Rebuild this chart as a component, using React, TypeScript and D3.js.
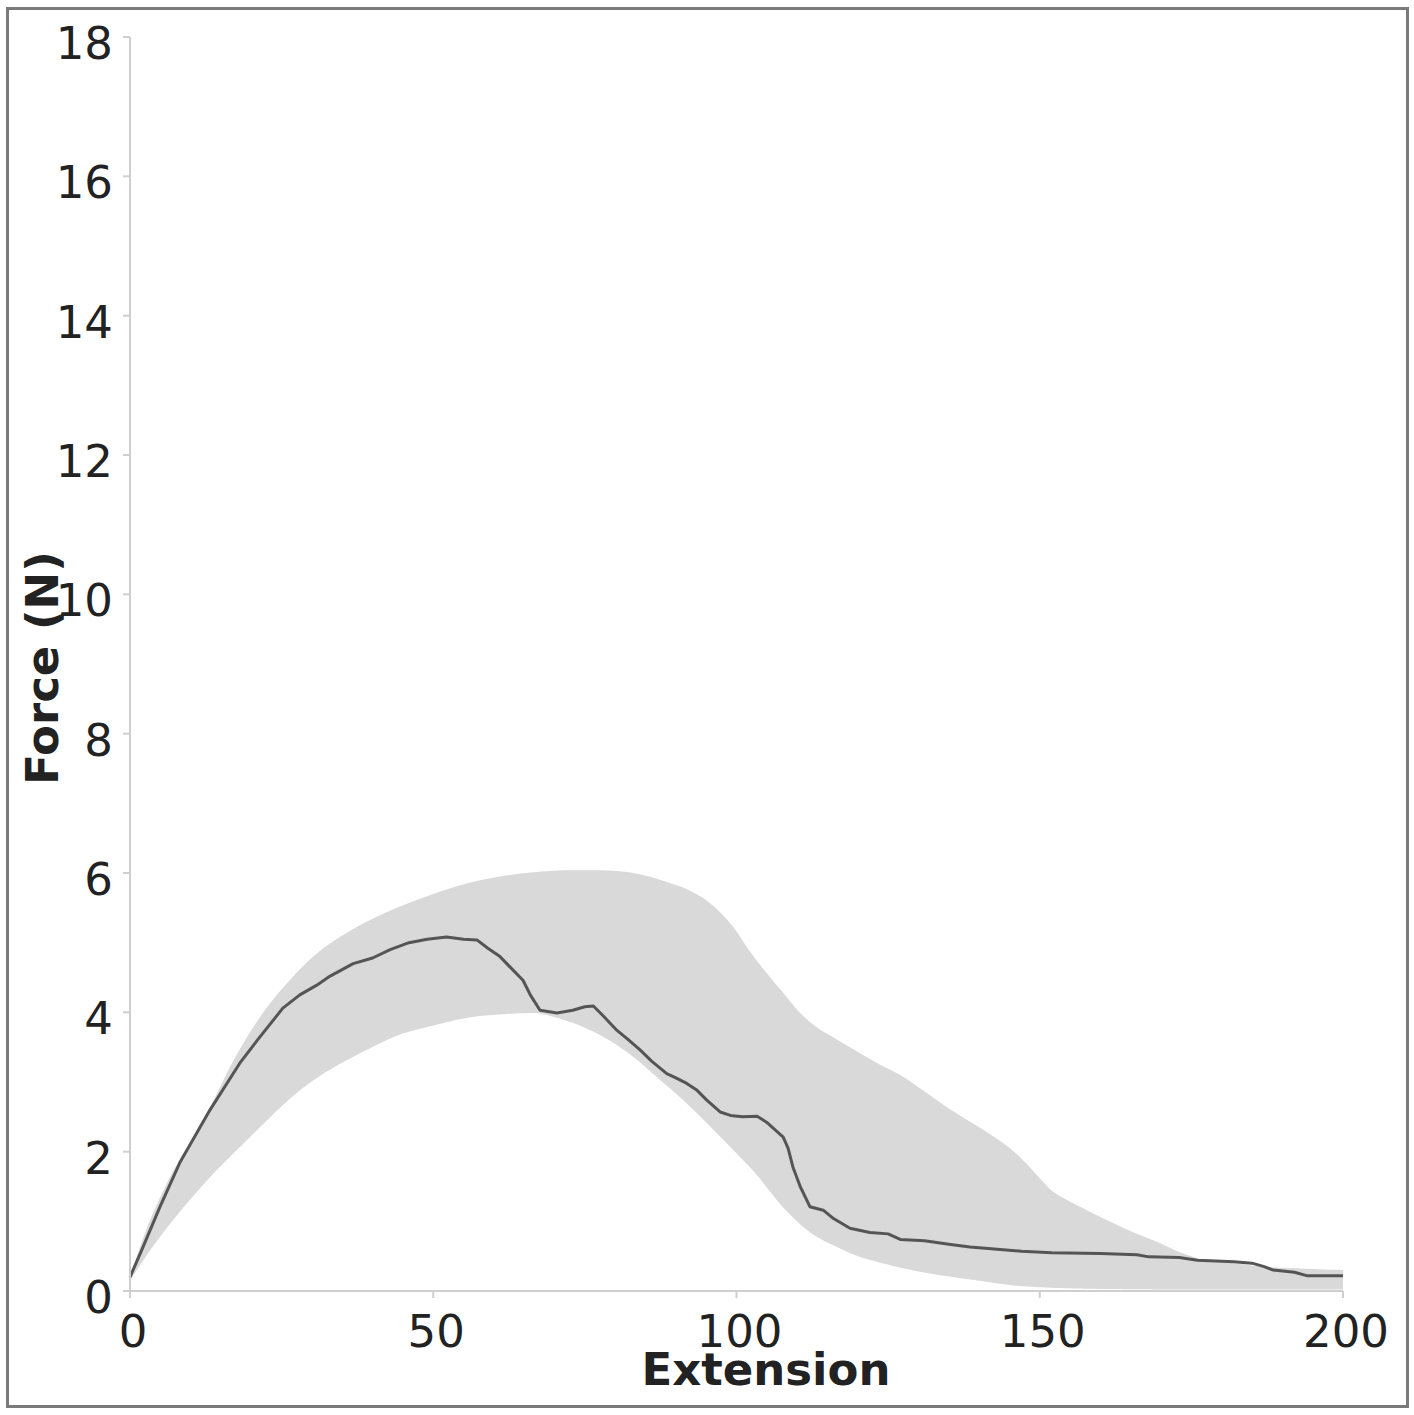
import React from "react";
import * as d3 from "d3";

const meanExt = [0, 2, 4.9, 8.2, 13.2, 18.1, 21, 25.2, 28, 30.8, 33, 36.8, 40, 42.9, 46, 49, 52.2, 55, 57.2, 59, 61, 63, 64.8, 66, 67.6, 70.4, 73, 75, 76.4, 78, 80.3, 82, 84.1, 86, 88.5, 90, 91.8, 93.5, 95.1, 97.3, 99, 101, 103.4, 105, 107.7, 108.5, 109.3, 110.5, 112.1, 114.3, 116, 118.7, 122, 125, 127, 131, 135, 138.5, 143, 147, 152, 160, 166, 168, 173, 176, 182, 185, 187, 188.5, 192, 194, 200];
const meanForce = [0.2, 0.6, 1.2, 1.84, 2.6, 3.27, 3.6, 4.06, 4.25, 4.39, 4.52, 4.7, 4.78, 4.9, 5.0, 5.05, 5.08, 5.05, 5.04, 4.92, 4.8, 4.62, 4.46, 4.25, 4.03, 3.99, 4.03, 4.08, 4.09, 3.95, 3.74, 3.62, 3.46, 3.3, 3.12, 3.06, 2.98, 2.88, 2.74, 2.57, 2.52, 2.5, 2.51, 2.42, 2.21, 2.05, 1.78, 1.5, 1.21, 1.16, 1.04, 0.9, 0.84, 0.82, 0.74, 0.72, 0.67, 0.63, 0.6, 0.57, 0.55, 0.54, 0.52, 0.49, 0.48, 0.44, 0.42, 0.4, 0.35, 0.3, 0.27, 0.22, 0.22];

const upperExt = [0, 3, 6.1, 10, 13.2, 17, 21.9, 25, 28, 31, 34.6, 39, 44.5, 50, 55.5, 61, 66.5, 72, 77.5, 83, 88.5, 92, 95, 97.5, 99.5, 102, 105, 108, 110.5, 113, 116, 118.7, 123, 127, 131.7, 135, 140, 144, 147, 150, 152, 154, 158, 162, 166, 169.5, 173, 177, 182, 188, 194, 200];
const upperForce = [0.2, 0.95, 1.55, 2.15, 2.64, 3.3, 3.99, 4.33, 4.62, 4.86, 5.08, 5.3, 5.52, 5.7, 5.85, 5.95, 6.01, 6.04, 6.04, 6.0, 5.87, 5.76, 5.61, 5.42, 5.22, 4.9, 4.56, 4.25, 3.99, 3.8, 3.64, 3.5, 3.28, 3.1, 2.82, 2.62, 2.35, 2.12, 1.9, 1.62, 1.44, 1.33, 1.15, 0.98, 0.82, 0.7, 0.56, 0.45, 0.4, 0.34, 0.32, 0.3];

const lowerExt = [0, 3.3, 11.5, 19.8, 28, 39, 44.5, 50, 55.5, 61, 66.5, 70, 74.7, 79, 83, 87, 91.2, 95, 99.5, 103, 107.7, 112, 116.6, 120, 124, 130, 139, 147, 160, 180, 200];
const lowerForce = [0.15, 0.58, 1.47, 2.21, 2.88, 3.46, 3.68, 3.81, 3.92, 3.97, 3.99, 3.93, 3.79, 3.6, 3.36, 3.06, 2.74, 2.42, 2.02, 1.7, 1.2, 0.85, 0.63, 0.5, 0.4, 0.28, 0.16, 0.07, 0.03, 0.02, 0.02];

const xTicks = [0, 50, 100, 150, 200];
const yTicks = [0, 2, 4, 6, 8, 10, 12, 14, 16, 18];

const W = 1414;
const H = 1415;
const left = 130, right = 1343, top = 37, bottom = 1291;

export default function App() {
  const x = d3.scaleLinear().domain([0, 200]).range([left, right]);
  const y = d3.scaleLinear().domain([0, 18]).range([bottom, top]);

  const upper = upperExt.map((e, i) => [e, upperForce[i]] as [number, number]);
  const lower = lowerExt.map((e, i) => [e, lowerForce[i]] as [number, number]);
  const mean = meanExt.map((e, i) => [e, meanForce[i]] as [number, number]);

  const lineSmooth = d3.line<[number, number]>().x(d => x(d[0])).y(d => y(d[1])).curve(d3.curveMonotoneX);
  const upPath = lineSmooth(upper) || "";
  const lowerRevPts = lower.slice().reverse();

  const bandPath = (() => {
    const lowFwd = lineSmooth(lower) || "";
    const pts: [number, number][] = [];
    const n = 500;
    const tmp = document.createElementNS("http://www.w3.org/2000/svg", "path");
    tmp.setAttribute("d", lowFwd);
    let len = 0;
    try { len = tmp.getTotalLength(); } catch (e) { len = 0; }
    if (len > 0) {
      for (let i = n; i >= 0; i--) {
        const p = tmp.getPointAtLength((len * i) / n);
        pts.push([p.x, p.y]);
      }
      return upPath + " L" + pts.map(p => p[0].toFixed(2) + "," + p[1].toFixed(2)).join(" L") + " Z";
    }
    return upPath + " L" + lowerRevPts.map(d => x(d[0]) + "," + y(d[1])).join(" L") + " Z";
  })();

  const meanLine = d3.line<[number, number]>().x(d => x(d[0])).y(d => y(d[1]))(mean) || "";

  const font = "'DejaVu Sans', Verdana, sans-serif";

  return (
    <svg width={W} height={H} style={{ position: "absolute", left: 0, top: 0, background: "#fff" }}>
      <rect x={0} y={0} width={W} height={H} fill="#fff" />
      <rect x={7.5} y={8.5} width={1400} height={1398} fill="none" stroke="#7a7a7a" strokeWidth={3} />
      <path d={bandPath} fill="#d9d9d9" stroke="none" />
      <path d={meanLine} fill="none" stroke="#555" strokeWidth={3} strokeLinejoin="round" />
      <line x1={left} x2={left} y1={top} y2={bottom} stroke="#cfcfcf" strokeWidth={2} />
      <line x1={left} x2={right} y1={bottom} y2={bottom} stroke="#cfcfcf" strokeWidth={2} />
      {yTicks.map(t => (
        <g key={"y" + t}>
          <line x1={left - 7} x2={left} y1={y(t)} y2={y(t)} stroke="#cfcfcf" strokeWidth={2} />
          <text x={113} y={y(t) + 22} textAnchor="end" fontFamily={font} fontSize={45} fill="#222">{t}</text>
        </g>
      ))}
      {xTicks.map(t => (
        <g key={"x" + t}>
          <line x1={x(t)} x2={x(t)} y1={bottom} y2={bottom + 7} stroke="#cfcfcf" strokeWidth={2} />
          <text x={x(t) + 3} y={1347} textAnchor="middle" fontFamily={font} fontSize={45} fill="#222">{t}</text>
        </g>
      ))}
      <text x={766} y={1385} textAnchor="middle" fontFamily={font} fontSize={45} fontWeight="bold" fill="#222">Extension</text>
      <text transform={`translate(58,668) rotate(-90)`} textAnchor="middle" fontFamily={font} fontSize={45} fontWeight="bold" fill="#222">Force (N)</text>
    </svg>
  );
}
